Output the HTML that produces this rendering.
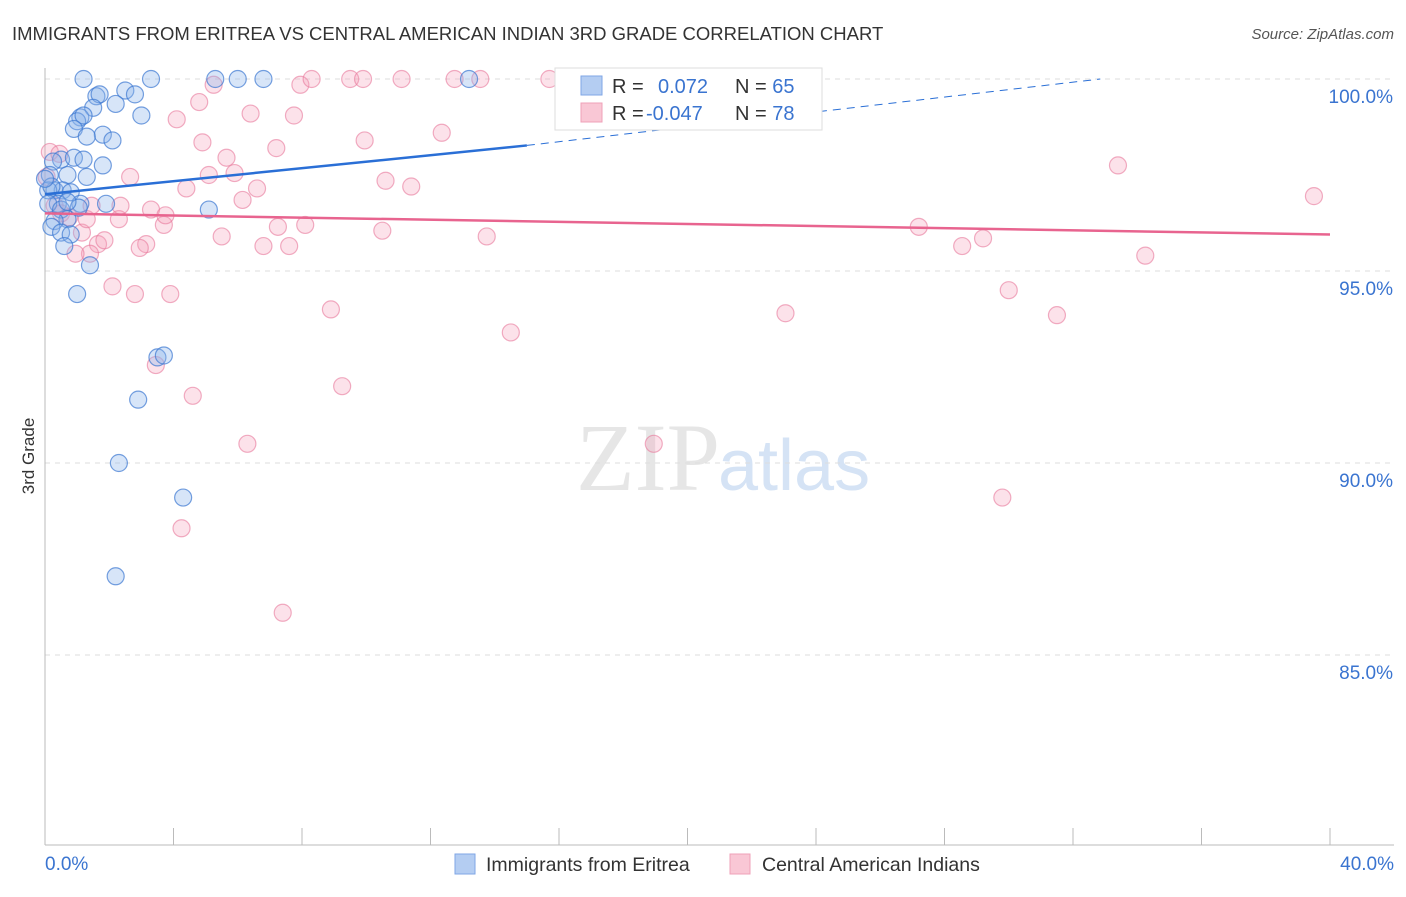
<!DOCTYPE html>
<html><head><meta charset="utf-8"><style>
body{margin:0;background:#fff;font-family:"Liberation Sans",sans-serif}
</style></head><body>
<svg id="c" width="1406" height="892" xmlns="http://www.w3.org/2000/svg">
<text x="12" y="40" font-size="18.5" fill="#333">IMMIGRANTS FROM ERITREA VS CENTRAL AMERICAN INDIAN 3RD GRADE CORRELATION CHART</text>
<text x="1394" y="39" font-size="15" fill="#555" font-style="italic" text-anchor="end">Source: ZipAtlas.com</text>
<text x="34" y="456" font-size="17" fill="#333" transform="rotate(-90 34 456)" text-anchor="middle">3rd Grade</text>
<text x="720" y="490" font-size="96" fill="#e6e6e6" text-anchor="end" font-family="Liberation Serif">ZIP</text>
<text x="718" y="490" font-size="72" fill="#d5e3f5">atlas</text>
<g id="grid"></g><g id="pts"></g><g id="trend"></g>
<g>
<rect x="555" y="68" width="267" height="62" fill="#fff" stroke="#ddd"/>
<rect x="581" y="76" width="21" height="19" fill="#b4cdf2" stroke="#7fa6e6"/>
<rect x="581" y="103" width="21" height="19" fill="#f9c7d5" stroke="#efa0b8"/>
<text x="612" y="93" font-size="20" fill="#333">R = <tspan x="658" fill="#3a74d0">0.072</tspan><tspan x="735" fill="#333">N = </tspan><tspan fill="#3a74d0">65</tspan></text>
<text x="612" y="120" font-size="20" fill="#333">R = <tspan x="646" fill="#3a74d0">-0.047</tspan><tspan x="735" fill="#333">N = </tspan><tspan fill="#3a74d0">78</tspan></text>
</g>
<g>
<rect x="455" y="854" width="20" height="20" fill="#b4cdf2" stroke="#7fa6e6"/>
<text x="486" y="871" font-size="19.5" fill="#333">Immigrants from Eritrea</text>
<rect x="730" y="854" width="20" height="20" fill="#f9c7d5" stroke="#efa0b8"/>
<text x="762" y="871" font-size="19.5" fill="#333">Central American Indians</text>
</g>
</svg>
<script>
const yTicks=[100,95,90,85];
const xTickLabels=["0.0%","40.0%"];
const blueX=[1.2,3.3,5.3,6.0,6.8,13.2,1.6,1.7,2.5,2.8,2.2,1.5,3.0,1.1,1.0,1.2,0.9,1.8,1.3,2.1,0.5,1.8,0.9,1.2,0.25,0.7,0.15,1.3,0.3,0.55,0.8,0.1,0.2,0.4,1.1,1.9,5.1,0.1,0.5,0.7,0.3,0.2,0.5,0.8,0.6,1.4,1.0,3.5,3.7,2.9,2.3,4.3,2.2,1.05,0.7,0.0];
const blueY=[100,100,100,100,100,100,99.55,99.6,99.7,99.6,99.35,99.25,99.05,99.0,98.9,99.05,98.7,98.55,98.5,98.4,97.9,97.75,97.95,97.9,97.85,97.5,97.5,97.45,97.1,97.1,97.05,97.1,97.2,96.75,96.75,96.75,96.6,96.75,96.6,96.35,96.3,96.15,96.0,95.95,95.65,95.15,94.4,92.75,92.8,91.65,90.0,89.1,87.05,96.65,96.8,97.4];
const pinkX=[0.15,0.45,0.05,0.3,0.5,0.75,1.15,1.3,1.45,1.65,1.85,2.3,2.35,2.65,2.1,2.8,3.15,2.95,3.3,3.7,3.75,3.9,3.45,4.6,4.25,4.1,4.4,4.8,4.9,5.1,5.25,5.5,5.65,5.9,6.15,6.3,6.4,6.6,6.8,7.2,7.25,7.4,7.6,7.75,7.95,8.1,8.3,8.9,9.25,9.5,9.9,9.95,10.5,10.6,11.1,11.4,12.35,12.75,13.55,13.75,14.5,15.7,18.15,18.95,22.25,23.05,27.2,28.55,29.2,29.8,30.0,31.5,33.4,34.25,39.5,1.4,0.95];
const pinkY=[98.1,98.05,97.45,96.7,96.5,96.4,96.0,96.35,96.7,95.7,95.8,96.35,96.7,97.45,94.6,94.4,95.7,95.6,96.6,96.2,96.45,94.4,92.55,91.75,88.3,98.95,97.15,99.4,98.35,97.5,99.85,95.9,97.95,97.55,96.85,90.5,99.1,97.15,95.65,98.2,96.15,86.1,95.65,99.05,99.85,96.2,100,94.0,92.0,100,100,98.4,96.05,97.35,100,97.2,98.6,100,100,95.9,93.4,100,100,90.5,100,93.9,96.15,95.65,95.85,89.1,94.5,93.85,97.75,95.4,96.95,95.45,95.45];
const X0=45,X1=1330,Y0=79;
const xs=v=>X0+(X1-X0)*v/40;
const ys=v=>Y0+(100-v)*38.4;
const NS="http://www.w3.org/2000/svg";
function mk(t,a,p){const e=document.createElementNS(NS,t);for(const k in a)e.setAttribute(k,a[k]);p.appendChild(e);return e;}
const g=document.getElementById('grid');
yTicks.forEach(t=>{
 const l=mk('line',{x1:45,x2:1394,y1:ys(t),y2:ys(t),stroke:'#ddd','stroke-dasharray':'5,5'},g);
 
 
 const tx=mk('text',{x:1393,y:ys(t)+24,'font-size':19,fill:'#3a74d0','text-anchor':'end'},g);
 tx.textContent=t.toFixed(1)+"%";
 
 
});
const ax=mk('line',{x1:45,x2:45,y1:68,y2:845,stroke:'#bbb'},g);


const bx=mk('line',{x1:45,x2:1394,y1:845,y2:845,stroke:'#bbb'},g);


for(let i=0;i<=10;i++){const x=X0+(X1-X0)*i/10;
 const t=mk('line',{x1:x,x2:x,y1:828,y2:845,stroke:'#bbb'},g);
 
 }
[[45,'start',0],[1394,'end',1]].forEach(([x,a,i])=>{
 const t=mk('text',{x:x,y:870,'font-size':19,fill:'#3a74d0','text-anchor':a},g);
 t.textContent=xTickLabels[i];
 
 });
const p=document.getElementById('pts');
pinkX.forEach((v,i)=>{
 const c=mk('circle',{cx:xs(v),cy:ys(pinkY[i]),r:8.5,fill:'rgba(244,160,185,0.3)',stroke:'rgba(232,120,155,0.6)','stroke-width':1.2},p);
 
 });
blueX.forEach((v,i)=>{
 const c=mk('circle',{cx:xs(v),cy:ys(blueY[i]),r:8.5,fill:'rgba(140,180,235,0.35)',stroke:'rgba(60,120,210,0.7)','stroke-width':1.2},p);
 
 });
const tr=document.getElementById('trend');
const bl=mk('line',{x1:xs(0),y1:ys(97.0),x2:xs(15),y2:ys(98.27),stroke:'#2a6fd6','stroke-width':2.5},tr);


const bd=mk('line',{x1:xs(15),y1:ys(98.27),x2:xs(32.85),y2:ys(100),stroke:'#2a6fd6','stroke-width':1,'stroke-dasharray':'8,6'},tr);


const pl=mk('line',{x1:xs(0),y1:ys(96.5),x2:xs(40),y2:ys(95.95),stroke:'#e8648f','stroke-width':2.5},tr);


</script>
</body></html>
